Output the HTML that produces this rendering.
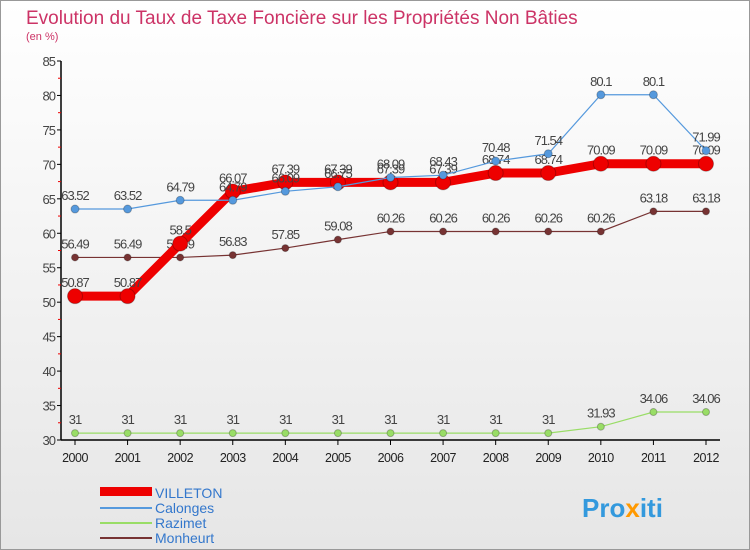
<!DOCTYPE html>
<html><head><meta charset="utf-8"><style>
body{margin:0;width:750px;height:550px;overflow:hidden;font-family:"Liberation Sans",sans-serif}
#wrap{position:absolute;left:0;top:0;width:748px;height:548px;border:1px solid #999;background:linear-gradient(#fff,#e6e6e6)}
</style></head><body>
<div id="wrap">
<svg id="c" width="750" height="550" style="position:absolute;left:-1px;top:-1px">
<text x="26" y="24" font-size="19" fill="#cc3366">Evolution du Taux de Taxe Foncière sur les Propriétés Non Bâties</text>
<text x="26" y="40" font-size="11" fill="#cc3366">(en %)</text>
<g id="ax"></g><g id="ser"></g>
<g>
<rect x="100" y="487" width="52" height="9" fill="#ee0000"/>
<text x="155" y="498" font-size="14" fill="#3377cc">VILLETON</text>
<line x1="100" y1="508" x2="152" y2="508" stroke="#5599dd" stroke-width="2"/>
<text x="155" y="513" font-size="14" fill="#3377cc">Calonges</text>
<line x1="100" y1="523" x2="152" y2="523" stroke="#99dd66" stroke-width="2"/>
<text x="155" y="528" font-size="14" fill="#3377cc">Razimet</text>
<line x1="100" y1="538" x2="152" y2="538" stroke="#773333" stroke-width="2"/>
<text x="155" y="543" font-size="14" fill="#3377cc">Monheurt</text>
</g>
<text x="582" y="517" font-size="26" font-weight="bold" fill="#3399dd">Pro<tspan fill="#ff9900">x</tspan>iti</text>
</svg></div>
<script>
const years=[2000,2001,2002,2003,2004,2005,2006,2007,2008,2009,2010,2011,2012];
const villeton=[50.87,50.87,58.5,66.07,67.39,67.39,67.39,67.39,68.74,68.74,70.09,70.09,70.09];
const calonges=[63.52,63.52,64.79,64.79,66.09,66.75,68.09,68.43,70.48,71.54,80.1,80.1,71.99];
const razimet=[31,31,31,31,31,31,31,31,31,31,31.93,34.06,34.06];
const monheurt=[56.49,56.49,56.49,56.83,57.85,59.08,60.26,60.26,60.26,60.26,60.26,63.18,63.18];
const yTicks=[30,35,40,45,50,55,60,65,70,75,80,85];
const NS="http://www.w3.org/2000/svg";
const X=i=>75+i*(706-75)/(years.length-1);
const Y=v=>440-(v-30)*(440-61)/55;
function mk(t,a,p){const e=document.createElementNS(NS,t);for(const k in a)e.setAttribute(k,a[k]);p.appendChild(e);return e;}
const ax=document.getElementById('ax');
const yl=mk('line',{x1:61,y1:61,x2:61,y2:440,stroke:'#000','stroke-width':1.5},ax);


const xl=mk('line',{x1:61,y1:440,x2:720,y2:440,stroke:'#000','stroke-width':1.5},ax);


yTicks.forEach(v=>{
 mk('line',{x1:57,y1:Y(v),x2:61,y2:Y(v),stroke:'#000'},ax);
 if(v<85)mk('line',{x1:58,y1:Y(v+2.5),x2:61,y2:Y(v+2.5),stroke:'#e00'},ax);
 const t=mk('text',{x:55,y:Y(v)+5,'font-size':13,'text-anchor':'end',fill:'#444','letter-spacing':'-1'},ax);
 t.textContent=v;
 
 
});
years.forEach((y,i)=>{
 mk('line',{x1:X(i),y1:440,x2:X(i),y2:445,stroke:'#000'},ax);
 const t=mk('text',{x:X(i),y:462,'font-size':12.5,'text-anchor':'middle',fill:'#222','letter-spacing':'-0.5'},ax);
 t.textContent=y;
 
 
});
const ser=document.getElementById('ser');
function draw(name,vals,color,w,r){
 const g=mk('g',{},ser);
 
 
 const p=mk('polyline',{points:vals.map((v,i)=>X(i)+','+Y(v)).join(' '),fill:'none',stroke:color,'stroke-width':w},g);
 
 
 vals.forEach((v,i)=>{
  const c=mk('circle',{cx:X(i),cy:Y(v),r:r,fill:color,stroke:'rgba(0,0,0,0.25)'},g);
  
  
  const t=mk('text',{x:X(i),y:Y(v)-9,'font-size':13,'text-anchor':'middle',fill:'#444','letter-spacing':'-1'},g);
  t.textContent=v;
  
  
 });
}
draw('monheurt',monheurt,'#773333',1.2,3.5);
draw('razimet',razimet,'#99dd66',1.2,3.5);
draw('villeton',villeton,'#ee0000',9,7.5);
draw('calonges',calonges,'#5599dd',1.2,4);
</script>
</body></html>
